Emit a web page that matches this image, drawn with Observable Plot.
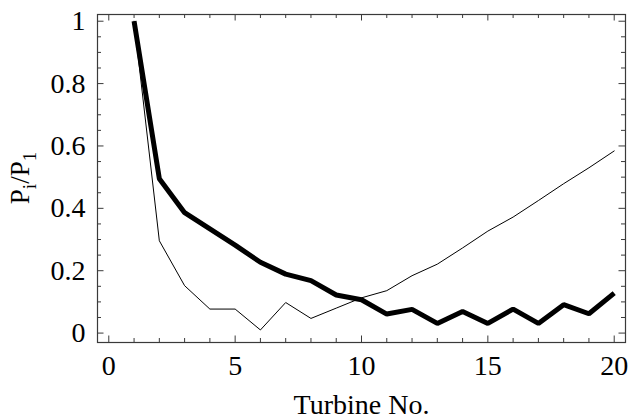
<!DOCTYPE html>
<html>
<head>
<meta charset="utf-8">
<script src="https://cdn.jsdelivr.net/npm/d3@7"></script>
<script src="https://cdn.jsdelivr.net/npm/@observablehq/plot@0.6"></script>
<style>
  html, body { margin: 0; padding: 0; background: #fff; }
  svg { display: block; }
  svg text { font-family: "Liberation Serif", "Times New Roman", serif; }
</style>
</head>
<body>
<div id="chart"></div>
<script>
// ---- data ----
const turbines = [1, 2, 3, 4, 5, 6, 7, 8, 9, 10, 11, 12, 13, 14, 15, 16, 17, 18, 19, 20];
const thickSeries = [1.0, 0.495, 0.386, 0.334, 0.282, 0.227, 0.189, 0.168, 0.122, 0.107,
                     0.061, 0.076, 0.031, 0.069, 0.031, 0.077, 0.031, 0.091, 0.062, 0.128];
const thinSeries  = [1.0, 0.296, 0.152, 0.077, 0.077, 0.010, 0.098, 0.047, 0.080, 0.113,
                     0.136, 0.184, 0.221, 0.273, 0.327, 0.372, 0.425, 0.479, 0.530, 0.584];

const xMajorTicks = [0, 5, 10, 15, 20];
const xTickLabels = ["0", "5", "10", "15", "20"];
const xMinorTicks = [0, 1, 2, 3, 4, 5, 6, 7, 8, 9, 10, 11, 12, 13, 14, 15, 16, 17, 18, 19, 20];
const yMajorTicks = [0, 0.2, 0.4, 0.6, 0.8, 1];
const yTickLabels = ["0", "0.2", "0.4", "0.6", "0.8", "1"];
const yMinorTicks = [0, 0.05, 0.1, 0.15, 0.2, 0.25, 0.3, 0.35, 0.4, 0.45, 0.5,
                     0.55, 0.6, 0.65, 0.7, 0.75, 0.8, 0.85, 0.9, 0.95, 1];
const xTitle = "Turbine No.";

// ---- layout ----
const W = 629, H = 419;
const mL = 97, mR = 4, mT = 14, mB = 77;
const innerW = W - mL - mR, innerH = H - mT - mB;
const font = "Liberation Serif";
const axisColor = "#3a3a3a";
const minorLen = 4, majorLen = 6.5;

const thick = turbines.map((t, i) => ({t, v: thickSeries[i]}));
const thin = turbines.map((t, i) => ({t, v: thinSeries[i]}));
const isMajorX = d => xMajorTicks.includes(d);
const isMajorY = d => yMajorTicks.some(m => Math.abs(m - d) < 1e-9);

const plot = Plot.plot({
  width: W, height: H,
  marginLeft: mL, marginRight: mR, marginTop: mT, marginBottom: mB,
  style: {fontFamily: font, fontSize: "28px", background: "#fff", color: "#000"},
  x: {domain: [-0.447, 20.447]},
  y: {domain: [-0.0302, 1.0215]},
  marks: [
    // thin line
    Plot.line(thin, {x: "t", y: "v", stroke: "#000", strokeWidth: 1}),
    // thick line
    Plot.line(thick, {x: "t", y: "v", stroke: "#000", strokeWidth: 5, strokeLinejoin: "miter", strokeLinecap: "butt"}),
    // inward ticks: bottom & top
    Plot.tickX(xMinorTicks.filter(d => !isMajorX(d)), {x: d => d, insetTop: innerH - minorLen, stroke: axisColor}),
    Plot.tickX(xMajorTicks, {x: d => d, insetTop: innerH - majorLen, stroke: axisColor}),
    Plot.tickX(xMinorTicks.filter(d => !isMajorX(d)), {x: d => d, insetBottom: innerH - minorLen, stroke: axisColor}),
    Plot.tickX(xMajorTicks, {x: d => d, insetBottom: innerH - majorLen, stroke: axisColor}),
    // inward ticks: left & right
    Plot.tickY(yMinorTicks.filter(d => !isMajorY(d)), {y: d => d, insetRight: innerW - minorLen, stroke: axisColor}),
    Plot.tickY(yMajorTicks, {y: d => d, insetRight: innerW - majorLen, stroke: axisColor}),
    Plot.tickY(yMinorTicks.filter(d => !isMajorY(d)), {y: d => d, insetLeft: innerW - minorLen, stroke: axisColor}),
    Plot.tickY(yMajorTicks, {y: d => d, insetLeft: innerW - majorLen, stroke: axisColor}),
    Plot.frame({stroke: axisColor, strokeWidth: 1.2}),
    Plot.axisX(xMajorTicks, {
      tickSize: 0, tickPadding: 13, label: null, fontSize: 28, fontFamily: font, fill: "#000",
      tickFormat: d => xTickLabels[xMajorTicks.indexOf(d)]
    }),
    Plot.axisY(yMajorTicks, {
      tickSize: 0, tickPadding: 12, label: null, fontSize: 28, fontFamily: font, fill: "#000",
      tickFormat: d => yTickLabels[yMajorTicks.indexOf(d)]
    }),
    Plot.text([xTitle], {
      frameAnchor: "bottom", text: d => d, dy: 71, lineAnchor: "bottom",
      fontSize: 28, fontFamily: font, fill: "#000"
    })
  ]
});

// y-axis title with subscripts: P_i / P_1
const svg = d3.select(plot);
const cy = mT + innerH / 2;
const yt = svg.append("text")
  .attr("transform", `translate(28.5,${cy}) rotate(-90)`)
  .attr("text-anchor", "middle")
  .attr("font-family", font)
  .attr("font-size", 27)
  .attr("fill", "#000");
yt.append("tspan").text("P");
yt.append("tspan").attr("font-size", 19).attr("dy", 7).text("i");
yt.append("tspan").attr("dy", -7).text("/P");
yt.append("tspan").attr("font-size", 19).attr("dy", 7).text("1");

document.getElementById("chart").append(plot);
</script>
</body>
</html>
